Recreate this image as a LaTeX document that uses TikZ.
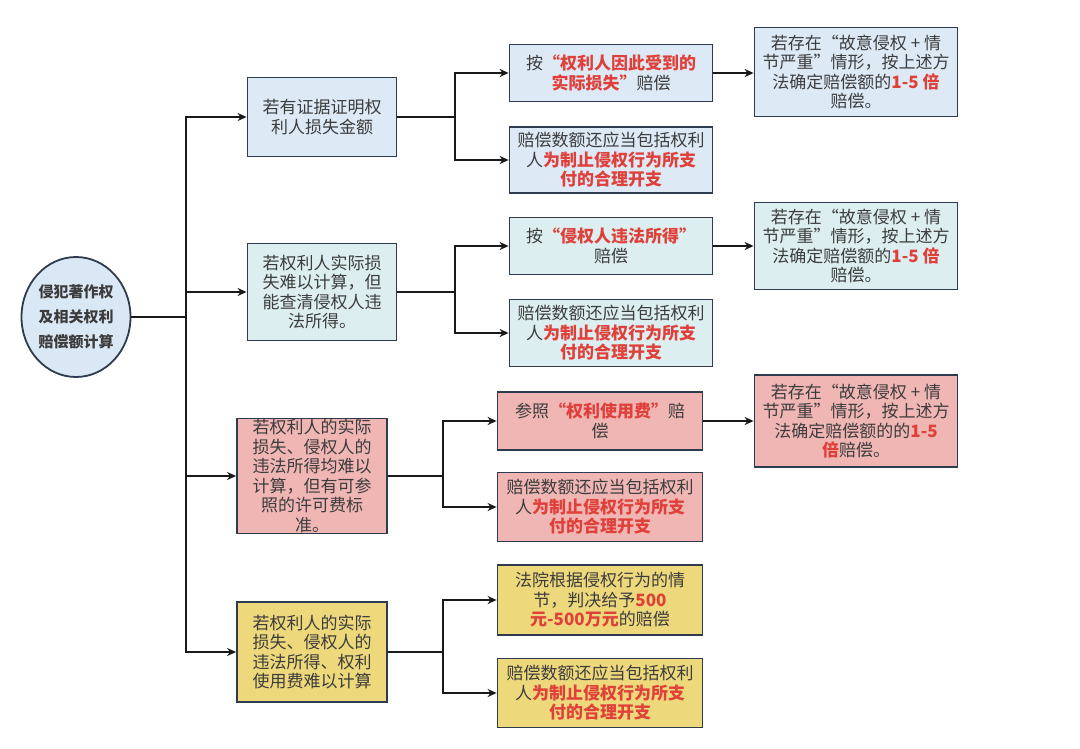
\documentclass[tikz,border=0pt]{standalone}
\usepackage{fontspec}
\setmainfont{Noto Sans CJK SC}
\usetikzlibrary{arrows.meta,shapes.geometric}
\definecolor{bdr}{HTML}{2E3B4E}
\definecolor{txt}{HTML}{3C3C3C}
\definecolor{hl}{HTML}{E0403A}
\definecolor{fblue}{HTML}{DDEAF6}
\definecolor{fcyan}{HTML}{DDEEF1}
\definecolor{fpink}{HTML}{EFB6B4}
\definecolor{fyel}{HTML}{EDD87B}
\definecolor{fcirc}{HTML}{DAE8F5}
\newcommand{\hi}[1]{{\bfseries\color{hl}#1}}
\newcommand{\extra}{赔偿数额还应当包括权利\\人\hi{为制止侵权行为所支}\\\hi{付的合理开支}}
\newcommand{\mult}{若存在“故意侵权 + 情\\节严重”情形，按上述方\\法确定赔偿额的\hi{1-5 倍}\\赔偿。}
\tikzset{
  box/.style={draw=bdr, line width=1.8pt, align=center, text=txt, inner sep=0pt,
    font=\fontsize{17}{19.5}\selectfont},
  arr/.style={draw=black!90, line width=1.8pt, -{Stealth[length=9pt,width=8pt]}},
  ln/.style={draw=black!90, line width=1.8pt},
}
\begin{document}
\begin{tikzpicture}[x=1pt,y=-1pt]
\useasboundingbox (0,0) rectangle (1080,749);
% root
\node[draw=bdr, line width=1.8pt, fill=fcirc, ellipse, minimum width=109pt, minimum height=120pt,
  inner sep=0pt, align=center, text=txt, font=\fontsize{15}{25}\selectfont\bfseries] (root) at (76,317)
  {侵犯著作权\\及相关权利\\赔偿额计算};
% level 1
\node[box, fill=fblue, minimum width=149pt, minimum height=79pt] (L1) at (322,117) {若有证据证明权\\利人损失金额};
\node[box, fill=fcyan, minimum width=149pt, minimum height=97pt] (L2) at (322,292) {若权利人实际损\\失难以计算，但\\能查清侵权人违\\法所得。};
\node[box, fill=fpink, minimum width=150pt, minimum height=115pt] (L3) at (312,476) {若权利人的实际\\损失、侵权人的\\违法所得均难以\\计算，但有可参\\照的许可费标\\准。};
\node[box, fill=fyel, minimum width=150pt, minimum height=100pt] (L4) at (312,652) {若权利人的实际\\损失、侵权人的\\违法所得、权利\\使用费难以计算};
% level 2
\node[box, fill=fblue, minimum width=203pt, minimum height=57pt] (M1a) at (611,73) {按\hi{“权利人因此受到的}\\\hi{实际损失”}赔偿};
\node[box, fill=fblue, minimum width=203pt, minimum height=66pt] (M1b) at (611,160) {\extra};
\node[box, fill=fcyan, minimum width=203pt, minimum height=57pt] (M2a) at (611,246) {按\hi{“侵权人违法所得”}\\赔偿};
\node[box, fill=fcyan, minimum width=203pt, minimum height=67pt] (M2b) at (611,333) {\extra};
\node[box, fill=fpink, minimum width=205pt, minimum height=58pt] (M3a) at (600,421) {参照\hi{“权利使用费”}赔\\偿};
\node[box, fill=fpink, minimum width=205pt, minimum height=69pt] (M3b) at (600,507) {\extra};
\node[box, fill=fyel, minimum width=205pt, minimum height=70pt] (M4a) at (600,600) {法院根据侵权行为的情\\节，判决给予\hi{500}\\\hi{元-500万元}的赔偿};
\node[box, fill=fyel, minimum width=205pt, minimum height=69pt] (M4b) at (600,693) {\extra};
% level 3
\node[box, fill=fblue, minimum width=203pt, minimum height=89pt] (R1) at (856,72) {\mult};
\node[box, fill=fcyan, minimum width=203pt, minimum height=87pt] (R2) at (856,246) {\mult};
\node[box, fill=fpink, minimum width=203pt, minimum height=92pt] (R3) at (856,421) {若存在“故意侵权 + 情\\节严重”情形，按上述方\\法确定赔偿额的的\hi{1-5}\\\hi{倍}赔偿。};
% trunk
\coordinate (t0) at (186,317);
\draw[ln] (root.east) -- (t0);
\draw[arr] (t0) |- (L1.west);
\draw[arr] (t0) |- (L2.west);
\draw[arr] (t0) |- (L3.west);
\draw[arr] (t0) |- (L4.west);
% splits
\coordinate (s1) at (455,117);
\coordinate (s2) at (455,292);
\coordinate (s3) at (443,476);
\coordinate (s4) at (443,652);
\draw[ln] (L1.east) -- (s1);
\draw[arr] (s1) |- (M1a.west);
\draw[arr] (s1) |- (M1b.west);
\draw[ln] (L2.east) -- (s2);
\draw[arr] (s2) |- (M2a.west);
\draw[arr] (s2) |- (M2b.west);
\draw[ln] (L3.east) -- (s3);
\draw[arr] (s3) |- (M3a.west);
\draw[arr] (s3) |- (M3b.west);
\draw[ln] (L4.east) -- (s4);
\draw[arr] (s4) |- (M4a.west);
\draw[arr] (s4) |- (M4b.west);
% to level 3
\draw[arr] (M1a.east) -- (M1a.east -| R1.west);
\draw[arr] (M2a.east) -- (M2a.east -| R2.west);
\draw[arr] (M3a.east) -- (M3a.east -| R3.west);
\end{tikzpicture}
\end{document}
